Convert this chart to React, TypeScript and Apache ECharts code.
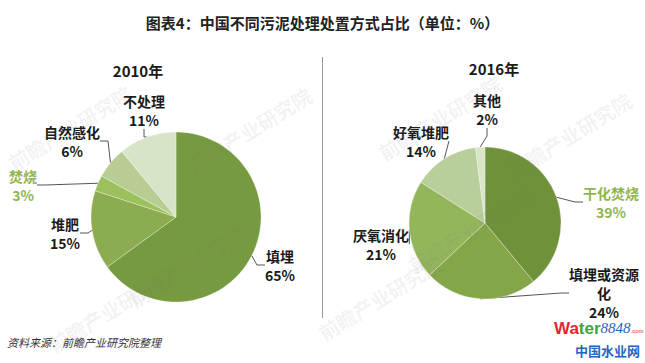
import React, { useEffect, useRef } from "react";
import * as echarts from "echarts";

const title = "图表4：中国不同污泥处理处置方式占比（单位：%）";
const years = ["2010年", "2016年"];
const cats2010 = ["填埋", "堆肥", "焚烧", "自然感化", "不处理"];
const vals2010 = [65, 15, 3, 6, 11];
const cats2016 = ["干化焚烧", "填埋或资源化", "厌氧消化", "好氧堆肥", "其他"];
const vals2016 = [39, 24, 21, 14, 2];
const source = "资料来源：前瞻产业研究院整理";

const colors2010 = ["#769a3f", "#8bac50", "#9cc05c", "#b7cd93", "#d8e4c7"];
const colors2016 = ["#6f9139", "#84a649", "#94b65b", "#b9cf9b", "#d9e4c9"];
const labelPos2010 = [
  [280, 265],
  [65, 233],
  [23, 185],
  [72, 141],
  [144, 110],
];
const labelPos2016 = [
  [611, 202],
  [604, 293],
  [381, 244],
  [421, 141],
  [487, 109],
];
const greenLabel = "#92b552";

function mkSeries(
  names: string[],
  vals: number[],
  cols: string[],
  center: number[],
  radius: number,
  pos: number[][],
  greenIdx: number
) {
  return {
    type: "pie",
    center,
    radius,
    startAngle: 90,
    clockwise: true,
    avoidLabelOverlap: false,
    itemStyle: { borderColor: "rgba(255,255,255,0.5)", borderWidth: 0.6 },
    labelLine: { show: true, lineStyle: { color: "#555", width: 1 }, length: 10, length2: 8 },
    emphasis: { disabled: true },
    data: names.map((n, i) => ({
      name: n,
      value: vals[i],
      itemStyle: { color: cols[i] },
      label: {
        show: true,
        formatter: (n.length > 5 ? n.slice(0, 5) + "\n" + n.slice(5) : n) + "\n" + vals[i] + "%",
        color: i === greenIdx ? greenLabel : "#1a1a1a",
        fontSize: 14,
        fontWeight: "bold",
        lineHeight: 19,
        align: "center",
        fontFamily: "'Noto Sans CJK SC', sans-serif",
      },
    })),
    labelLayout: (p: any) => {
      const q = pos[p.dataIndex];
      return { x: q[0], y: q[1], align: "center", verticalAlign: "middle" };
    },
  };
}

export default function App() {
  const ref = useRef<HTMLDivElement>(null);
  useEffect(() => {
    document.body.style.margin = "0";
    const chart = echarts.init(ref.current!, null, { renderer: "svg" });
    const wm = (x: number, y: number, s: number) => ({
      type: "text",
      x,
      y,
      rotation: 0.55,
      z: 100,
      silent: true,
      style: {
        text: "前瞻产业研究院",
        fontSize: s,
        fontWeight: "bold",
        fill: "rgba(120,120,120,0.09)",
        fontFamily: "'Noto Sans CJK SC', sans-serif",
        align: "center",
        verticalAlign: "middle",
      },
    });
    chart.setOption({
      animation: false,
      backgroundColor: "#ffffff",
      title: {
        text: title,
        left: "center",
        top: 10,
        textStyle: {
          fontSize: 15,
          fontWeight: "bold",
          color: "#222",
          fontFamily: "'Noto Sans CJK SC', sans-serif",
        },
      },
      graphic: [
        {
          type: "line",
          shape: { x1: 322.5, y1: 57, x2: 322.5, y2: 318 },
          style: { stroke: "#9a9a9a", lineWidth: 1 },
        },
        {
          type: "text",
          x: 138,
          y: 70,
          style: {
            text: years[0],
            fontSize: 15,
            fontWeight: "bold",
            fill: "#1a1a1a",
            align: "center",
            verticalAlign: "middle",
            fontFamily: "'Noto Sans CJK SC', sans-serif",
          },
        },
        {
          type: "text",
          x: 494,
          y: 68,
          style: {
            text: years[1],
            fontSize: 15,
            fontWeight: "bold",
            fill: "#1a1a1a",
            align: "center",
            verticalAlign: "middle",
            fontFamily: "'Noto Sans CJK SC', sans-serif",
          },
        },
        {
          type: "text",
          x: 7,
          y: 342,
          style: {
            text: source,
            fontSize: 11,
            fontStyle: "italic",
            fill: "#333",
            verticalAlign: "middle",
            fontFamily: "'Noto Sans CJK SC', sans-serif",
          },
        },
        {
          type: "text",
          x: 554,
          y: 328,
          style: {
            text: "{r|Wa}{g|ter}{b|8848}{c|.com}",
            verticalAlign: "middle",
            rich: {
              r: { fontSize: 17, fontWeight: "bold", fill: "#e2262b", fontFamily: "Arial, 'Liberation Sans'" },
              g: { fontSize: 17, fontWeight: "bold", fill: "#3ea63a", fontFamily: "Arial, 'Liberation Sans'" },
              b: { fontSize: 15, fontStyle: "italic", fill: "#2f62b8", fontFamily: "'Liberation Serif', serif" },
              c: { fontSize: 6, fill: "#e2262b", fontFamily: "Arial", padding: [6, 0, 0, 0] },
            },
          },
        },
        {
          type: "text",
          x: 640,
          y: 350,
          style: {
            text: "中国水业网",
            fontSize: 13,
            fontWeight: "bold",
            fill: "#2a62c0",
            align: "right",
            verticalAlign: "middle",
            fontFamily: "'Noto Sans CJK SC', sans-serif",
          },
        },
        wm(70, 128, 20),
        wm(250, 130, 20),
        wm(190, 265, 20),
        wm(440, 118, 20),
        wm(570, 135, 20),
        wm(470, 230, 20),
        wm(110, 310, 20),
        wm(380, 298, 20),
      ],
      series: [
        mkSeries(cats2010, vals2010, colors2010, [176, 217], 85, labelPos2010, 2),
        mkSeries(cats2016, vals2016, colors2016, [485, 223], 76, labelPos2016, 0),
      ],
    });
    return () => chart.dispose();
  }, []);
  return <div ref={ref} style={{ width: 645, height: 363 }} />;
}
